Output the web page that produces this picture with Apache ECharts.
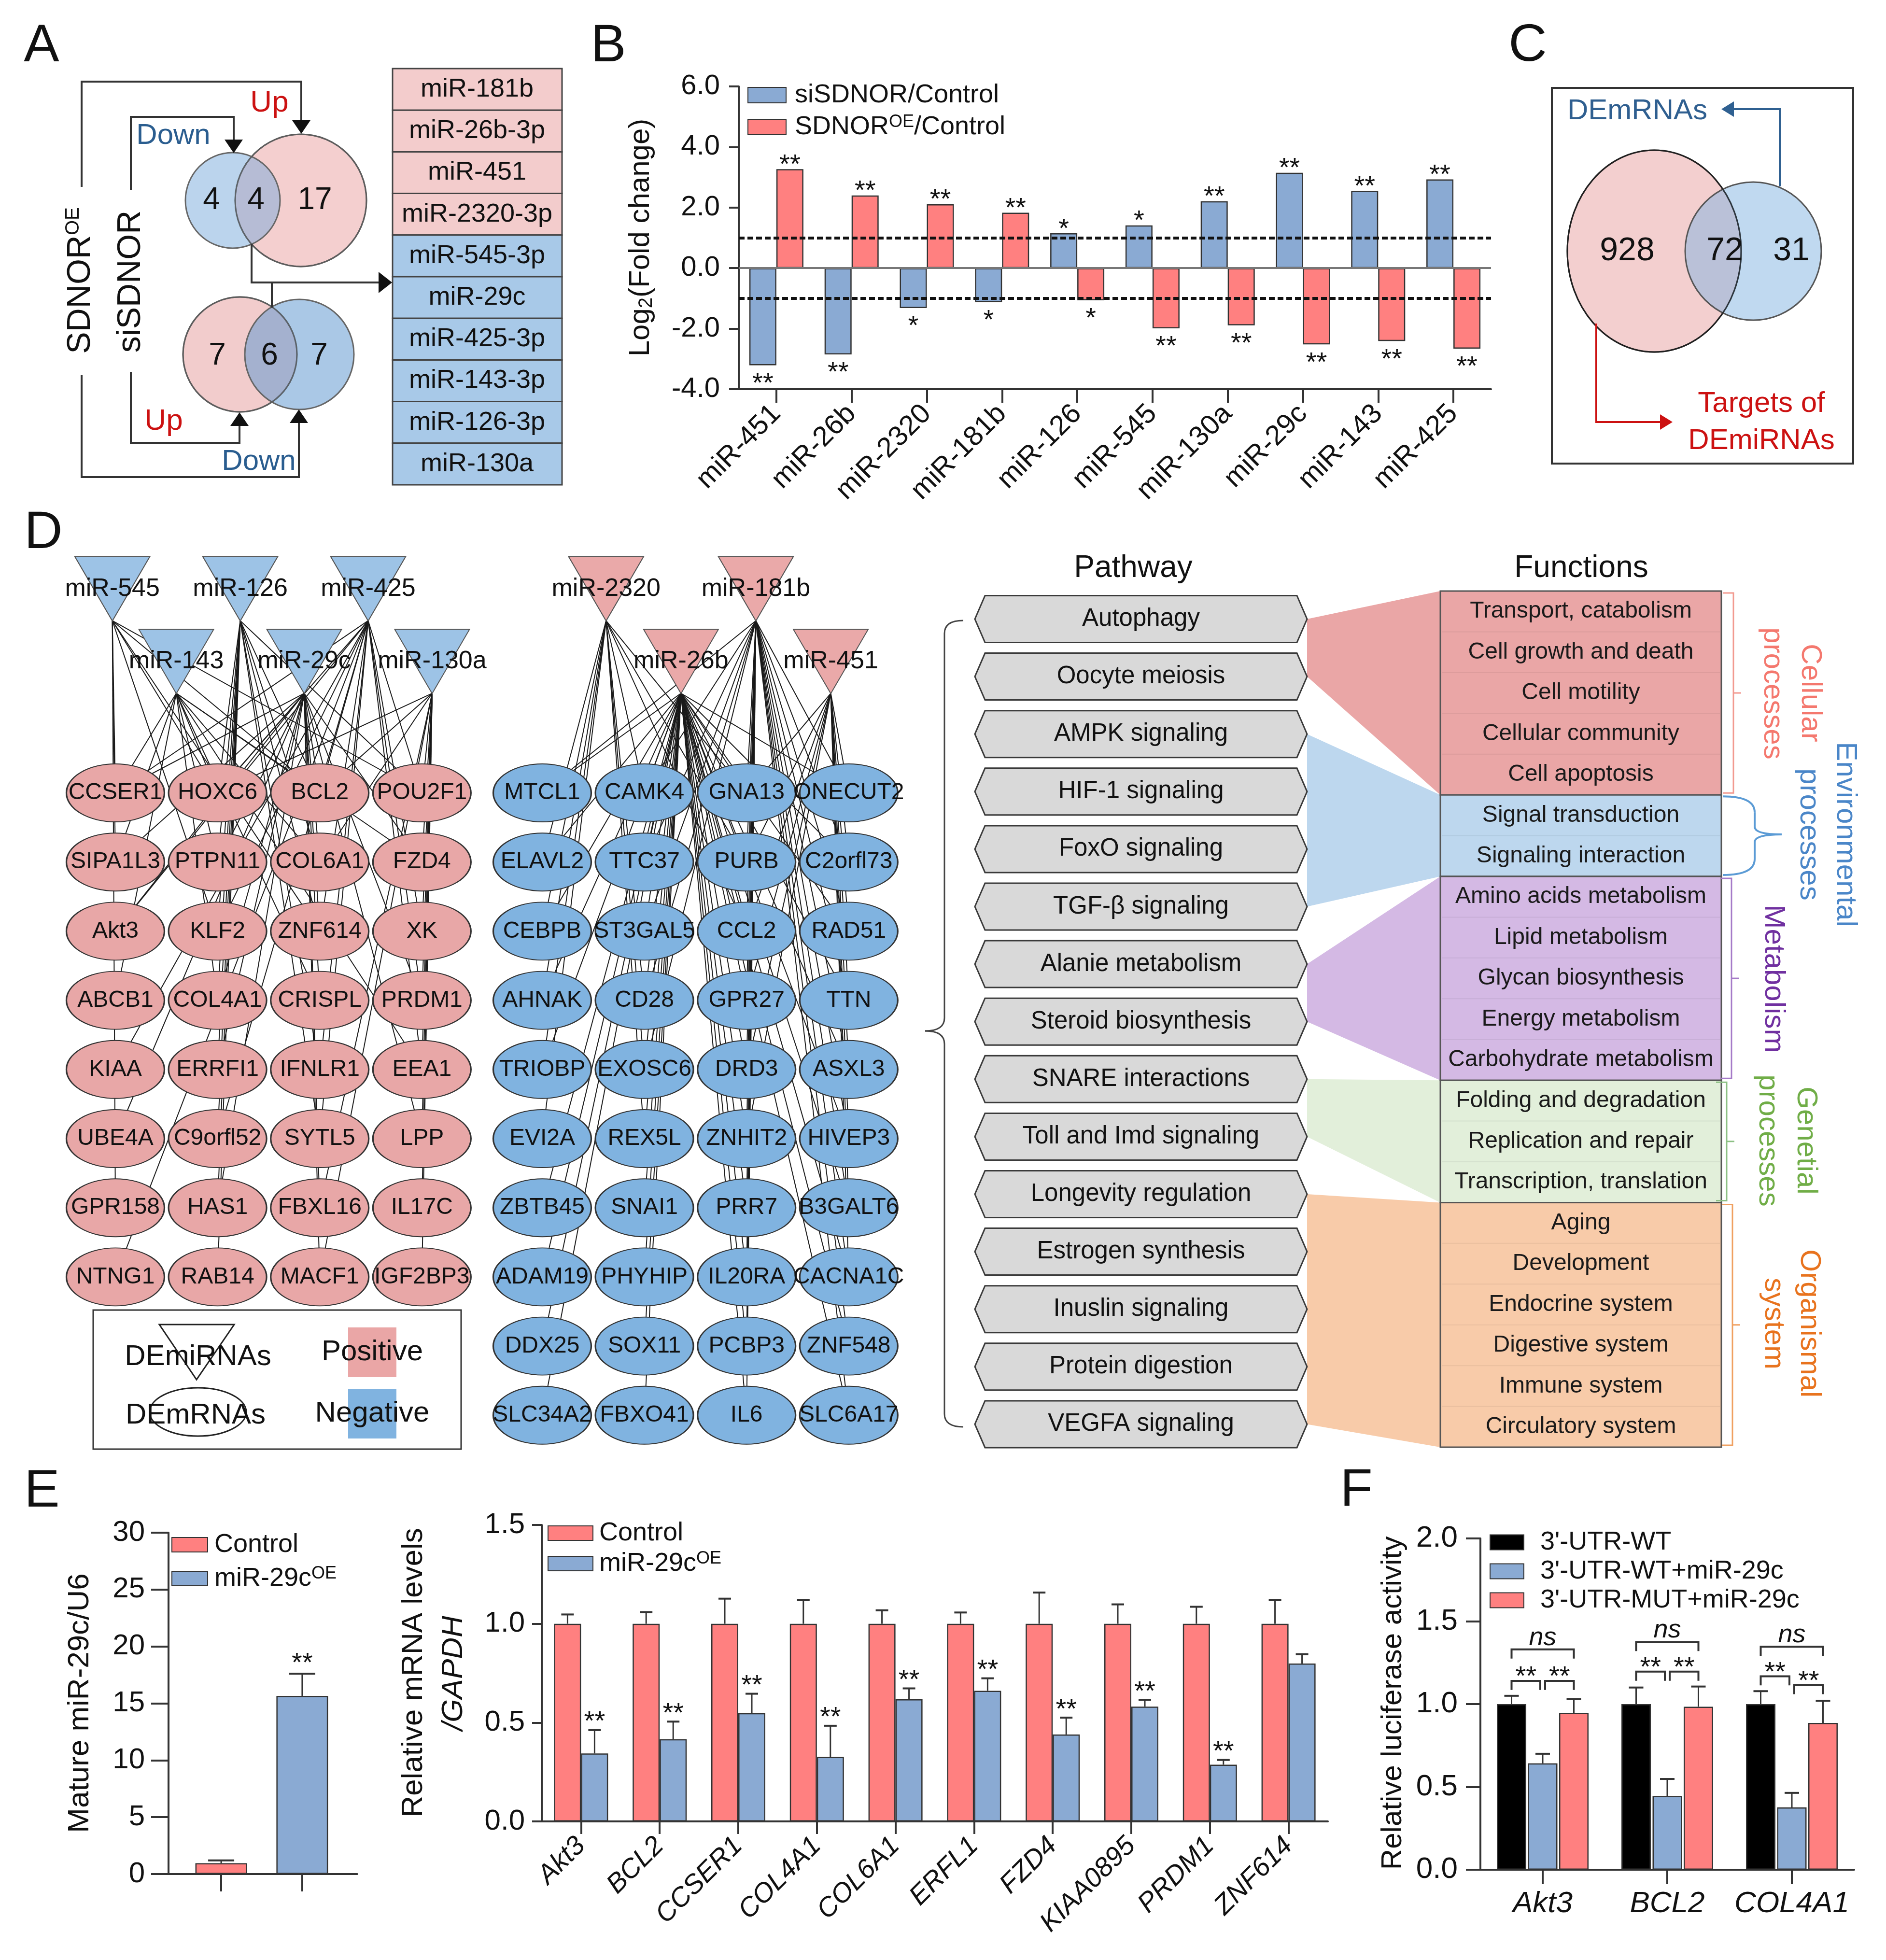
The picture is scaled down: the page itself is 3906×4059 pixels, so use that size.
<!DOCTYPE html>
<html><head><meta charset="utf-8">
<script src="https://cdn.jsdelivr.net/npm/echarts@6/dist/echarts.min.js"></script>
<style>html,body{margin:0;padding:0;background:#fff}#c{width:3906px;height:4059px}</style>
</head><body><div id="c"></div>
<script>
const FONT = '"Liberation Sans", Arial, Helvetica, sans-serif';

// ---------------- DATA ----------------
// Panel A
const aUpList = ['miR-181b', 'miR-26b-3p', 'miR-451', 'miR-2320-3p'];
const aDownList = ['miR-545-3p', 'miR-29c', 'miR-425-3p', 'miR-143-3p', 'miR-126-3p', 'miR-130a'];
const vennTop = [4, 4, 17];
const vennBottom = [7, 6, 7];
// Panel B
const bCats = ['miR-451', 'miR-26b', 'miR-2320', 'miR-181b', 'miR-126', 'miR-545', 'miR-130a', 'miR-29c', 'miR-143', 'miR-425'];
const bSi = [-3.21, -2.85, -1.32, -1.12, 1.15, 1.41, 2.21, 3.15, 2.55, 2.93];
const bOE = [3.27, 2.40, 2.11, 1.83, -1.06, -1.99, -1.89, -2.52, -2.41, -2.66];
const bSiStars = ['**', '**', '*', '*', '*', '*', '**', '**', '**', '**'];
const bOEStars = ['**', '**', '**', '**', '*', '**', '**', '**', '**', '**'];
const bThresholds = [1, -1];
// Panel C
const vennC = [928, 72, 31];
// Panel D network
const leftMiR = ['miR-545', 'miR-143', 'miR-126', 'miR-29c', 'miR-425', 'miR-130a'];
const rightMiR = ['miR-2320', 'miR-26b', 'miR-181b', 'miR-451'];
const leftGenes = ['CCSER1', 'HOXC6', 'BCL2', 'POU2F1', 'SIPA1L3', 'PTPN11', 'COL6A1', 'FZD4',
  'Akt3', 'KLF2', 'ZNF614', 'XK', 'ABCB1', 'COL4A1', 'CRISPL', 'PRDM1',
  'KIAA', 'ERRFI1', 'IFNLR1', 'EEA1', 'UBE4A', 'C9orfl52', 'SYTL5', 'LPP',
  'GPR158', 'HAS1', 'FBXL16', 'IL17C', 'NTNG1', 'RAB14', 'MACF1', 'IGF2BP3'];
const rightGenes = ['MTCL1', 'CAMK4', 'GNA13', 'ONECUT2', 'ELAVL2', 'TTC37', 'PURB', 'C2orfl73',
  'CEBPB', 'ST3GAL5', 'CCL2', 'RAD51', 'AHNAK', 'CD28', 'GPR27', 'TTN',
  'TRIOBP', 'EXOSC6', 'DRD3', 'ASXL3', 'EVI2A', 'REX5L', 'ZNHIT2', 'HIVEP3',
  'ZBTB45', 'SNAI1', 'PRR7', 'B3GALT6', 'ADAM19', 'PHYHIP', 'IL20RA', 'CACNA1C',
  'DDX25', 'SOX11', 'PCBP3', 'ZNF548', 'SLC34A2', 'FBXO41', 'IL6', 'SLC6A17'];
const t545 = ['CCSER1', 'SIPA1L3', 'HOXC6', 'KLF2', 'BCL2', 'ZNF614', 'POU2F1', 'GPR158'];
const t143 = ['CCSER1', 'SIPA1L3', 'ABCB1', 'HOXC6', 'PTPN11', 'COL4A1', 'BCL2', 'COL6A1', 'CRISPL', 'FZD4', 'EEA1'];
const t126 = ['HOXC6', 'PTPN11', 'KLF2', 'COL4A1', 'ERRFI1', 'C9orfl52', 'HAS1', 'RAB14', 'BCL2', 'COL6A1', 'ZNF614', 'IFNLR1', 'SYTL5', 'POU2F1'];
const t29c = ['CCSER1', 'SIPA1L3', 'Akt3', 'UBE4A', 'HOXC6', 'PTPN11', 'COL4A1', 'ERRFI1', 'HAS1', 'BCL2', 'COL6A1', 'ZNF614', 'CRISPL', 'FBXL16', 'MACF1', 'FZD4', 'PRDM1', 'LPP'];
const t425 = ['CCSER1', 'Akt3', 'KIAA', 'NTNG1', 'HOXC6', 'KLF2', 'C9orfl52', 'BCL2', 'ZNF614', 'IFNLR1', 'SYTL5', 'POU2F1', 'XK', 'PRDM1', 'EEA1'];
const t130a = ['HOXC6', 'BCL2', 'COL6A1', 'FBXL16', 'MACF1', 'POU2F1', 'FZD4', 'XK', 'PRDM1', 'EEA1', 'LPP', 'IL17C', 'IGF2BP3'];
const t2320 = ['CAMK4', 'ELAVL2', 'CEBPB', 'AHNAK', 'CD28', 'TRIOBP', 'EXOSC6', 'GNA13', 'PURB', 'CCL2', 'EVI2A', 'REX5L'];
const t26b = ['MTCL1', 'CAMK4', 'GNA13', 'ONECUT2', 'ELAVL2', 'TTC37', 'PURB', 'C2orfl73', 'CEBPB', 'ST3GAL5', 'CCL2', 'RAD51',
  'AHNAK', 'CD28', 'GPR27', 'TTN', 'TRIOBP', 'EXOSC6', 'DRD3', 'ASXL3', 'REX5L', 'ZNHIT2', 'HIVEP3', 'ZBTB45', 'SNAI1', 'PRR7',
  'B3GALT6', 'ADAM19', 'PHYHIP', 'IL20RA', 'CACNA1C', 'DDX25', 'SOX11', 'PCBP3', 'ZNF548', 'SLC34A2', 'FBXO41', 'IL6', 'SLC6A17'];
const t181b = ['MTCL1', 'CAMK4', 'GNA13', 'ONECUT2', 'TTC37', 'PURB', 'C2orfl73', 'ST3GAL5', 'CCL2', 'RAD51', 'CD28', 'GPR27', 'TTN',
  'EXOSC6', 'DRD3', 'ASXL3', 'ZNHIT2', 'HIVEP3', 'PRR7', 'B3GALT6', 'IL20RA', 'CACNA1C', 'PCBP3', 'ZNF548', 'IL6', 'SLC6A17'];
const t451 = ['ONECUT2', 'C2orfl73', 'RAD51', 'TTN', 'ASXL3', 'HIVEP3', 'B3GALT6', 'CACNA1C', 'GNA13', 'PURB', 'CCL2', 'GPR27', 'DRD3', 'ZNHIT2'];
// Panel D pathways / functions
const pathways = ['Autophagy', 'Oocyte meiosis', 'AMPK signaling', 'HIF-1 signaling', 'FoxO signaling', 'TGF-β signaling',
  'Alanie metabolism', 'Steroid biosynthesis', 'SNARE interactions', 'Toll and Imd signaling', 'Longevity regulation',
  'Estrogen synthesis', 'Inuslin signaling', 'Protein digestion', 'VEGFA signaling'];
const fnCellular = ['Transport, catabolism', 'Cell growth and death', 'Cell motility', 'Cellular community', 'Cell apoptosis'];
const fnEnv = ['Signal transduction', 'Signaling interaction'];
const fnMetab = ['Amino acids metabolism', 'Lipid metabolism', 'Glycan biosynthesis', 'Energy metabolism', 'Carbohydrate metabolism'];
const fnGenetic = ['Folding and degradation', 'Replication and repair', 'Transcription, translation'];
const fnOrgan = ['Aging', 'Development', 'Endocrine system', 'Digestive system', 'Immune system', 'Circulatory system'];
const pathRanges = [[0, 1], [2, 5], [6, 7], [8, 9], [10, 14]];
// Panel E
const e1Cats = ['Control', 'miR-29cOE'];
const e1Vals = [0.95, 15.66];
const e1Errs = [0.25, 1.95];
const e1Stars = ['', '**'];
const e2Cats = ['Akt3', 'BCL2', 'CCSER1', 'COL4A1', 'COL6A1', 'ERFL1', 'FZD4', 'KIAA0895', 'PRDM1', 'ZNF614'];
const e2Ctrl = [1, 1, 1, 1, 1, 1, 1, 1, 1, 1];
const e2CtrlErr = [0.047, 0.059, 0.127, 0.121, 0.068, 0.057, 0.158, 0.098, 0.086, 0.121];
const e2OE = [0.344, 0.416, 0.548, 0.326, 0.618, 0.661, 0.440, 0.581, 0.287, 0.799];
const e2OEErr = [0.118, 0.089, 0.098, 0.158, 0.055, 0.063, 0.085, 0.034, 0.024, 0.047];
const e2Stars = ['**', '**', '**', '**', '**', '**', '**', '**', '**', ''];
// Panel F
const fCats = ['Akt3', 'BCL2', 'COL4A1'];
const fWT = [1.0, 1.0, 1.0];
const fWTErr = [0.05, 0.10, 0.078];
const fWT29 = [0.642, 0.445, 0.376];
const fWT29Err = [0.058, 0.103, 0.088];
const fMUT = [0.946, 0.984, 0.886];
const fMUTErr = [0.084, 0.122, 0.134];
const fSigGroup = [0, 0, 0, 1, 1, 1, 2, 2, 2];
const fSigA = [0, 0, 1, 0, 0, 1, 0, 0, 1];
const fSigB = [2, 1, 2, 2, 1, 2, 2, 1, 2];
const fSigLevel = [1.33, 1.14, 1.14, 1.375, 1.196, 1.196, 1.346, 1.168, 1.115];
const fSigLabel = ['ns', '**', '**', 'ns', '**', '**', 'ns', '**', '**'];

// ---------------- GRAPHIC HELPERS ----------------
const G = [];
function txt(x, y, text, size, o = {}) {
  const al = o.align || 'center', va = o.va || 'middle';
  G.push({
    type: 'text', x: x, y: y, rotation: o.rot || 0, z: o.z || 60, silent: true,
    style: {
      text: text, x: 0, y: 0, fill: o.color || '#111', fontSize: size, fontFamily: FONT,
      fontStyle: o.italic ? 'italic' : 'normal', fontWeight: 'normal',
      textAlign: al, align: al, textVerticalAlign: va, verticalAlign: va, rich: o.rich
    }
  });
}
function poly(points, fill, stroke, lw, z) {
  G.push({ type: 'polygon', z: z || 10, silent: true, shape: { points: points }, style: { fill: fill, stroke: stroke || null, lineWidth: lw || 0 } });
}
function pline(points, stroke, lw, z) {
  G.push({ type: 'polyline', z: z || 20, silent: true, shape: { points: points }, style: { fill: null, stroke: stroke, lineWidth: lw } });
}
function rect(x, y, w, h, fill, stroke, lw, z) {
  G.push({ type: 'rect', z: z || 10, silent: true, shape: { x: x, y: y, width: w, height: h }, style: { fill: fill, stroke: stroke || null, lineWidth: lw || 0 } });
}
function ell(cx, cy, rx, ry, fill, stroke, lw, z) {
  G.push({ type: 'ellipse', z: z || 10, silent: true, shape: { cx: cx, cy: cy, rx: rx, ry: ry }, style: { fill: fill, stroke: stroke || null, lineWidth: lw || 0 } });
}
function segs(list, stroke, lw, z) {
  let cx = 0, cy = 0;
  list.forEach(s => {
    if (s[0] === 'M') { cx = s[1]; cy = s[2]; }
    else if (s[0] === 'L') { pline([[cx, cy], [s[1], s[2]]], stroke, lw, z); cx = s[1]; cy = s[2]; }
    else if (s[0] === 'Q') {
      G.push({ type: 'bezierCurve', z: z || 20, silent: true, shape: { x1: cx, y1: cy, cpx1: s[1], cpy1: s[2], x2: s[3], y2: s[4] }, style: { fill: null, stroke: stroke, lineWidth: lw } });
      cx = s[3]; cy = s[4];
    }
  });
}
function arrow(tx, ty, dir, len, half, color) {
  let pts;
  if (dir === 'down') pts = [[tx, ty], [tx - half, ty - len], [tx + half, ty - len]];
  if (dir === 'up') pts = [[tx, ty], [tx - half, ty + len], [tx + half, ty + len]];
  if (dir === 'right') pts = [[tx, ty], [tx - len, ty - half], [tx - len, ty + half]];
  if (dir === 'left') pts = [[tx, ty], [tx + len, ty - half], [tx + len, ty + half]];
  poly(pts, color, null, 0, 25);
}

// ---------------- PANEL LETTERS ----------------
txt(86, 97, 'A', 110); txt(1260, 97, 'B', 110); txt(3164, 96, 'C', 110);
txt(90, 1105, 'D', 110); txt(87, 3090, 'E', 110); txt(2809, 3089, 'F', 110);

// ---------------- PANEL A ----------------
const LN = '#333';
pline([[169, 387], [169, 169], [624, 169], [624, 252]], LN, 4);
arrow(624, 277, 'down', 28, 19, '#111');
pline([[169, 777], [169, 988], [619, 988], [619, 874]], LN, 4);
arrow(619, 848, 'up', 28, 19, '#111');
pline([[271, 394], [271, 242], [484, 242], [484, 292]], LN, 4);
arrow(484, 317, 'down', 28, 19, '#111');
pline([[271, 770], [271, 917], [496, 917], [496, 880]], LN, 4);
arrow(496, 854, 'up', 28, 19, '#111');
pline([[521, 505], [521, 585], [786, 585]], LN, 4);
pline([[563, 585], [563, 637]], LN, 4);
arrow(812, 585, 'right', 28, 22, '#111');
ell(623, 415, 136, 137, '#f4cfcf', '#666', 3, 10);
ell(482, 415, 98, 99, 'rgba(120,170,220,0.5)', '#666', 3, 11);
ell(623, 415, 136, 137, null, 'rgba(90,90,90,0.8)', 3, 12);
txt(438, 415, String(vennTop[0]), 64); txt(530, 415, String(vennTop[1]), 64); txt(652, 415, String(vennTop[2]), 64);
ell(497, 734, 118, 119, '#f2cccc', '#666', 3, 10);
ell(620, 734, 113, 114, 'rgba(100,155,210,0.55)', '#666', 3, 11);
ell(497, 734, 118, 119, null, 'rgba(90,90,90,0.8)', 3, 12);
txt(450, 737, String(vennBottom[0]), 64); txt(558, 737, String(vennBottom[1]), 64); txt(661, 737, String(vennBottom[2]), 64);
txt(558, 214, 'Up', 62, { color: '#cc1111' });
txt(359, 281, 'Down', 60, { color: '#2a5d8f' });
txt(339, 873, 'Up', 62, { color: '#cc1111' });
txt(536, 956, 'Down', 60, { color: '#2a5d8f' });
txt(167, 581, '{n|SDNOR}{s|OE}', 66, {
  rot: Math.PI / 2, rich: {
    n: { fontSize: 68, fontFamily: FONT, lineHeight: 70, fill: '#111', color: '#111' },
    s: { fontSize: 40, fontFamily: FONT, lineHeight: 30, verticalAlign: 'top', fill: '#111', color: '#111' }
  }
});
txt(271, 583, 'siSDNOR', 68, { rot: Math.PI / 2 });
const aAll = aUpList.concat(aDownList);
const rowH = 86.2;
aAll.forEach((m, i) => {
  rect(813, 142 + i * rowH, 351, rowH, i < aUpList.length ? '#f3cccc' : '#a8c9e8', '#444', 3, 10);
  txt(988, 142 + i * rowH + rowH / 2, m, 54);
});

// ---------------- PANEL C ----------------
rect(3214, 182, 624, 778, '#fff', '#333', 4, 5);
ell(3426, 520, 180, 209, '#f3cfcf', '#222', 3, 10);
ell(3631, 520, 141, 143, 'rgba(130,180,225,0.5)', '#555', 3, 11);
ell(3426, 520, 180, 209, null, 'rgba(30,30,30,0.7)', 3, 12);
txt(3370, 520, String(vennC[0]), 68); txt(3572, 520, String(vennC[1]), 68); txt(3710, 520, String(vennC[2]), 68);
txt(3246, 230, 'DEmRNAs', 60, { align: 'left', color: '#2f5f90' });
pline([[3686, 386], [3686, 226], [3590, 226]], '#2f6091', 4);
arrow(3565, 226, 'left', 26, 16, '#2f6091');
pline([[3306, 670], [3306, 874], [3440, 874]], '#cc1111', 4);
arrow(3464, 874, 'right', 26, 16, '#cc1111');
txt(3648, 836, 'Targets of', 60, { color: '#cc1111' });
txt(3648, 913, 'DEmiRNAs', 60, { color: '#cc1111' });

// ---------------- PANEL D: legend ----------------
rect(193, 2713, 762, 288, '#fff', '#333', 3, 5);
poly([[330, 2743], [485, 2743], [407, 2857]], '#fff', '#222', 3, 10);
txt(410, 2810, 'DEmiRNAs', 60, { z: 15 });
ell(410, 2924, 100, 50, '#fff', '#222', 3, 10);
txt(405, 2931, 'DEmRNAs', 60, { z: 15 });
rect(721, 2749, 100, 103, '#eaa6a6', null, 0, 10);
txt(771, 2800, 'Positive', 60, { z: 15 });
rect(721, 2877, 100, 102, '#80b3e0', null, 0, 10);
txt(771, 2927, 'Negative', 60, { z: 15 });

// ---------------- PANEL D: pathways ----------------
txt(2347, 1177, 'Pathway', 64);
txt(3275, 1177, 'Functions', 64);
const pTop = 1282, pStep = 119.1, hexL = 2019, hexR = 2707, hexH = 97, hexC = 21;
pathways.forEach((p, i) => {
  const cy = pTop + i * pStep;
  poly([[hexL, cy], [hexL + hexC, cy - hexH / 2], [hexR - hexC, cy - hexH / 2], [hexR, cy], [hexR - hexC, cy + hexH / 2], [hexL + hexC, cy + hexH / 2]], '#d9d9d9', '#3a3a3a', 3, 20);
  txt((hexL + hexR) / 2, cy, p, 51, { z: 30 });
});
segs([['M', 1995, 1285], ['Q', 1956, 1285, 1956, 1312], ['L', 1956, 2108], ['Q', 1956, 2135, 1916, 2135],
  ['Q', 1956, 2135, 1956, 2162], ['L', 1956, 2928], ['Q', 1956, 2955, 1995, 2955]], '#444', 3);
const fnGroups = [fnCellular, fnEnv, fnMetab, fnGenetic, fnOrgan];
const fnFill = ['#eaa6a6', '#bdd7ee', '#d4b9e4', '#e2efda', '#f8cba9'];
const fTop = 1224, fBot = 2997, fL = 2983, fR = 3565;
const nItems = fnGroups.reduce((s, g) => s + g.length, 0);
const fH = (fBot - fTop) / nItems;
let k = 0;
fnGroups.forEach((g, gi) => {
  const y0 = fTop + k * fH, y1 = y0 + g.length * fH;
  const pr = pathRanges[gi];
  poly([[hexR, pTop + pr[0] * pStep], [fL, y0], [fL, y1], [hexR, pTop + pr[1] * pStep]], fnFill[gi], null, 0, 8);
  rect(fL, y0, fR - fL, y1 - y0, fnFill[gi], '#555', 3, 12);
  g.forEach((f, j) => {
    if (j > 0) pline([[fL + 3, y0 + j * fH], [fR - 3, y0 + j * fH]], 'rgba(0,0,0,0.06)', 2, 13);
    txt((fL + fR) / 2, y0 + (j + 0.5) * fH, f, 48, { color: '#1a1a1a', z: 30 });
  });
  k += g.length;
});
const yS = [fTop, fTop + 5 * fH, fTop + 7 * fH, fTop + 12 * fH, fTop + 15 * fH, fBot];
function sqBracket(ya, yb, x, color) {
  const ym = (ya + yb) / 2;
  pline([[x - 22, ya + 4], [x, ya + 4], [x, yb - 4], [x - 22, yb - 4]], color, 3);
  pline([[x, ym], [x + 16, ym]], color, 3);
}
sqBracket(yS[0], yS[1], 3590, '#f29a90');
segs([['M', 3568, yS[1] + 3], ['Q', 3634, yS[1] + 3, 3634, yS[1] + 36], ['L', 3634, 1712], ['Q', 3634, 1728, 3690, 1728],
  ['Q', 3634, 1728, 3634, 1744], ['L', 3634, yS[2] - 36], ['Q', 3634, yS[2] - 3, 3568, yS[2] - 3]], '#5b9bd5', 4);
sqBracket(yS[2], yS[3], 3586, '#a57ac8');
sqBracket(yS[3], yS[4], 3576, '#8cc084');
sqBracket(yS[4], yS[5], 3588, '#f0a060');
const R = -Math.PI / 2;
txt(3749, 1435, 'Cellular', 60, { rot: R, color: '#f4786e' });
txt(3671, 1436, 'processes', 60, { rot: R, color: '#f4786e' });
txt(3822, 1728, 'Environmental', 60, { rot: R, color: '#4a86c8' });
txt(3746, 1728, 'processes', 60, { rot: R, color: '#4a86c8' });
txt(3673, 2027, 'Metabolism', 60, { rot: R, color: '#7030a0' });
txt(3740, 2362, 'Genetial', 60, { rot: R, color: '#70ad47' });
txt(3661, 2362, 'processes', 60, { rot: R, color: '#70ad47' });
txt(3747, 2741, 'Organismal', 60, { rot: R, color: '#e8731e' });
txt(3673, 2741, 'system', 60, { rot: R, color: '#e8731e' });

// ---------------- axis titles ----------------
txt(1327, 492, '{a|Log}{b|2}{a|(Fold change)}', 60, {
  rot: Math.PI / 2, rich: {
    a: { fontSize: 60, fontFamily: FONT, lineHeight: 64, color: '#111' },
    b: { fontSize: 40, fontFamily: FONT, lineHeight: 30, verticalAlign: 'bottom', color: '#111' }
  }
});
txt(166, 3527, 'Mature miR-29c/U6', 62, { rot: Math.PI / 2 });
txt(857, 3464, 'Relative mRNA levels', 62, { rot: Math.PI / 2 });
txt(940, 3465, '/GAPDH', 62, { rot: Math.PI / 2, italic: true });
txt(2885, 3527, 'Relative luciferase activity', 60, { rot: Math.PI / 2 });

// ---------------- NETWORK ----------------
const TRI = 'path://M0,0L2,0L1,1.72Z';
function netSeries(mirs, genes, lists, gridIdx, x0, step, triColor, geneColor) {
  const nodes = [];
  mirs.forEach((m, i) => nodes.push({
    name: m, value: [x0 + i * step, i % 2 === 0 ? -2.49 : -1.44],
    symbol: TRI, symbolSize: [155, 133], symbolOffset: [0, -66],
    itemStyle: { color: triColor, borderColor: '#555', borderWidth: 2 },
    label: { fontSize: 52 }
  }));
  genes.forEach((g, j) => nodes.push({
    name: g, value: [j % 4, Math.floor(j / 4)],
    symbol: 'circle', symbolSize: [203, 120],
    itemStyle: { color: geneColor, borderColor: '#333', borderWidth: 2.5 }
  }));
  const links = [];
  mirs.forEach((m, i) => lists[i].forEach(t => links.push({ source: m, target: t })));
  return {
    type: 'graph', layout: 'none', coordinateSystem: 'cartesian2d', xAxisIndex: gridIdx, yAxisIndex: gridIdx,
    silent: true, roam: false, z: 3, data: nodes, links: links,
    label: { show: true, position: 'inside', formatter: '{b}', fontSize: 48, color: '#111', fontFamily: FONT },
    lineStyle: { color: '#1a1a1a', width: 2, opacity: 1, curveness: 0 },
    emphasis: { disabled: true }
  };
}

// ---------------- CHART SERIES HELPERS ----------------
function errSeries(ax, vals, errs, offset, capW, stars, starGap) {
  return {
    type: 'custom', xAxisIndex: ax, yAxisIndex: ax, z: 6, silent: true,
    data: vals.map((v, i) => [i, v, errs[i]]),
    renderItem: (params, api) => {
      const i = api.value(0), v = api.value(1), e = api.value(2);
      const p0 = api.coord([i, v]), p1 = api.coord([i, v + e]);
      const x = p0[0] + offset;
      const ch = [
        { type: 'line', shape: { x1: x, y1: p0[1], x2: x, y2: p1[1] }, style: { stroke: '#333', lineWidth: 3 } },
        { type: 'line', shape: { x1: x - capW / 2, y1: p1[1], x2: x + capW / 2, y2: p1[1] }, style: { stroke: '#333', lineWidth: 4 } }
      ];
      const s = stars ? stars[params.dataIndex] : '';
      if (s) ch.push({ type: 'text', style: { text: s, x: x, y: p1[1] - starGap, textAlign: 'center', align: 'center', textVerticalAlign: 'middle', verticalAlign: 'middle', fontSize: 56, fontFamily: FONT, fill: '#111' } });
      return { type: 'group', children: ch };
    }
  };
}
const stXE1 = e1Vals.map((v, i) => [i, v]);

const axLine = { show: true, onZero: false, lineStyle: { color: '#333', width: 4 } };
const axTick = (len) => ({ show: true, length: len, lineStyle: { color: '#333', width: 4 } });
const richLegend = {
  n: { fontSize: 54, fontFamily: FONT, lineHeight: 56, color: '#111' },
  s: { fontSize: 36, fontFamily: FONT, lineHeight: 22, verticalAlign: 'top', color: '#111' }
};
function legendFmt(name) {
  if (name.endsWith('OE')) return '{n|' + name.slice(0, -2) + '}{s|OE}';
  if (name.indexOf('OE/') >= 0) { const p = name.split('OE/'); return '{n|' + p[0] + '}{s|OE}{n|/' + p[1] + '}'; }
  return '{n|' + name + '}';
}
function legend(names, left, top, iw, ih, gap, tpad) {
  return {
    data: names, left: left, top: top, orient: 'vertical', padding: 0, itemWidth: iw, itemHeight: ih, itemGap: gap,
    icon: 'rect', selectedMode: false, formatter: legendFmt,
    textStyle: { fontSize: 54, fontFamily: FONT, color: '#111', padding: [0, 0, 0, tpad], rich: richLegend }
  };
}

const PINK = '#ff8080', BLUE = '#8aaad3';
const barStyle = (c) => ({ color: c, borderColor: '#333', borderWidth: 2.5 });

const option = {
  animation: false,
  backgroundColor: '#fff',
  textStyle: { fontFamily: FONT },
  grid: [
    { left: 1530, top: 179, width: 1558, height: 627 },
    { left: 349, top: 3174, width: 391, height: 707 },
    { left: 1122, top: 3158, width: 1628, height: 614 },
    { left: 3066, top: 3186, width: 774, height: 686 },
    { left: 27.4, top: 1212.4, width: 1058, height: 1575.2 },
    { left: 911.4, top: 1212.4, width: 1058, height: 1861.6 }
  ],
  xAxis: [
    { gridIndex: 0, type: 'category', data: bCats, axisLine: axLine, axisTick: Object.assign(axTick(28), { alignWithLabel: true }),
      axisLabel: { rotate: 45, fontSize: 58, color: '#111', margin: 42, interval: 0 } },
    { gridIndex: 1, type: 'value', min: -0.65, max: 1.68, axisLine: axLine, splitLine: { show: false },
      axisTick: Object.assign(axTick(36), { customValues: [0, 1] }), axisLabel: { show: false } },
    { gridIndex: 2, type: 'category', data: e2Cats, axisLine: axLine, axisTick: Object.assign(axTick(26), { alignWithLabel: true }),
      axisLabel: { rotate: 45, fontSize: 56, fontStyle: 'italic', color: '#111', margin: 42, interval: 0 } },
    { gridIndex: 3, type: 'category', data: fCats, axisLine: axLine, axisTick: Object.assign(axTick(30), { alignWithLabel: true }),
      axisLabel: { fontSize: 62, fontStyle: 'italic', color: '#111', margin: 40, interval: 0 } },
    { gridIndex: 4, type: 'value', min: -1, max: 4, show: false },
    { gridIndex: 5, type: 'value', min: -1, max: 4, show: false }
  ],
  yAxis: [
    { gridIndex: 0, type: 'value', min: -4, max: 6, interval: 2, axisLine: axLine, axisTick: axTick(20), splitLine: { show: false },
      axisLabel: { fontSize: 58, color: '#111', margin: 39, formatter: v => v.toFixed(1) } },
    { gridIndex: 1, type: 'value', min: 0, max: 30, interval: 5, axisLine: axLine, axisTick: axTick(36), splitLine: { show: false },
      axisLabel: { fontSize: 60, color: '#111', margin: 49 } },
    { gridIndex: 2, type: 'value', min: 0, max: 1.5, interval: 0.5, axisLine: axLine, axisTick: axTick(20), splitLine: { show: false },
      axisLabel: { fontSize: 60, color: '#111', margin: 35, formatter: v => v.toFixed(1) } },
    { gridIndex: 3, type: 'value', min: 0, max: 2, interval: 0.5, axisLine: axLine, axisTick: axTick(30), splitLine: { show: false },
      axisLabel: { fontSize: 62, color: '#111', margin: 47, formatter: v => v.toFixed(1) } },
    { gridIndex: 4, type: 'value', min: -3, max: 8, inverse: true, show: false },
    { gridIndex: 5, type: 'value', min: -3, max: 10, inverse: true, show: false }
  ],
  legend: [
    legend(['siSDNOR/Control', 'SDNOROE/Control'], 1548, 170, 79, 32, 11, 13),
    legend(['Control', 'miR-29cOE'], 355, 3172, 74, 30, 15, 9),
    legend(['Control', 'miR-29cOE'], 1134, 3148, 93, 30, 8, 8),
    legend(["3'-UTR-WT", "3'-UTR-WT+miR-29c", "3'-UTR-MUT+miR-29c"], 3085, 3167, 70, 31, 6, 29)
  ],
  graphic: { elements: G },
  series: [
    { type: 'line', xAxisIndex: 0, yAxisIndex: 0, data: [], z: 1, silent: true,
      markLine: { silent: true, symbol: ['none', 'none'], label: { show: false },
        data: [{ yAxis: 0, lineStyle: { color: '#777', width: 4, type: 'solid' } }]
          .concat(bThresholds.map(t => ({ yAxis: t, lineStyle: { color: '#111', width: 6, type: [12, 6] } }))) } },
    { type: 'bar', name: 'siSDNOR/Control', xAxisIndex: 0, yAxisIndex: 0, data: bSi, barWidth: 56, barGap: '0%', z: 3, itemStyle: barStyle(BLUE) },
    { type: 'bar', name: 'SDNOROE/Control', xAxisIndex: 0, yAxisIndex: 0, data: bOE, barWidth: 56, barGap: '0%', z: 3, itemStyle: barStyle(PINK) },
    { type: 'custom', xAxisIndex: 0, yAxisIndex: 0, z: 6, silent: true,
      data: bSi.map((v, i) => [i, v, 0]).concat(bOE.map((v, i) => [i, v, 1])),
      renderItem: (params, api) => {
        const i = api.value(0), v = api.value(1), s = api.value(2);
        const p = api.coord([i, v]);
        const di = params.dataIndex;
        const star = di < bSi.length ? bSiStars[di] : bOEStars[di - bSi.length];
        const x = p[0] + (s === 0 ? -28 : 28);
        const y = v >= 0 ? p[1] - 8 : p[1] + 39;
        return { type: 'text', style: { text: star, x: x, y: y, textAlign: 'center', align: 'center', textVerticalAlign: 'middle', verticalAlign: 'middle', fontSize: 56, fontFamily: FONT, fill: '#111' } };
      } },
    { type: 'bar', name: 'Control', xAxisIndex: 1, yAxisIndex: 1, data: [stXE1[0]], barWidth: 107, barGap: '-100%', z: 3, itemStyle: barStyle(PINK) },
    { type: 'bar', name: 'miR-29cOE', xAxisIndex: 1, yAxisIndex: 1, data: [stXE1[1]], barWidth: 107, barGap: '-100%', z: 3, itemStyle: barStyle(BLUE) },
    errSeries(1, e1Vals, e1Errs, 0, 54, e1Stars, 20),
    { type: 'bar', name: 'Control', xAxisIndex: 2, yAxisIndex: 2, data: e2Ctrl, barWidth: 56, barGap: '0%', z: 3, itemStyle: barStyle(PINK) },
    { type: 'bar', name: 'miR-29cOE', xAxisIndex: 2, yAxisIndex: 2, data: e2OE, barWidth: 56, barGap: '0%', z: 3, itemStyle: barStyle(BLUE) },
    errSeries(2, e2Ctrl, e2CtrlErr, -28, 26, null, 0),
    errSeries(2, e2OE, e2OEErr, 28, 26, e2Stars, 16),
    { type: 'bar', name: "3'-UTR-WT", xAxisIndex: 3, yAxisIndex: 3, data: fWT, barWidth: 61, barGap: '5.7%', z: 3, itemStyle: barStyle('#000') },
    { type: 'bar', name: "3'-UTR-WT+miR-29c", xAxisIndex: 3, yAxisIndex: 3, data: fWT29, barWidth: 61, barGap: '5.7%', z: 3, itemStyle: barStyle(BLUE) },
    { type: 'bar', name: "3'-UTR-MUT+miR-29c", xAxisIndex: 3, yAxisIndex: 3, data: fMUT, barWidth: 61, barGap: '5.7%', z: 3, itemStyle: barStyle(PINK) },
    errSeries(3, fWT, fWTErr, -64.5, 30, null, 0),
    errSeries(3, fWT29, fWT29Err, 0, 30, null, 0),
    errSeries(3, fMUT, fMUTErr, 64.5, 30, null, 0),
    { type: 'custom', xAxisIndex: 3, yAxisIndex: 3, z: 6, silent: true,
      data: fSigGroup.map((g, i) => [g, fSigLevel[i], fSigA[i], fSigB[i]]),
      renderItem: (params, api) => {
        const g = api.value(0), lv = api.value(1), a = api.value(2), b = api.value(3);
        const p = api.coord([g, lv]);
        const drop = api.coord([g, lv - 0.055])[1] - p[1];
        const off = [-64.5, 0, 64.5];
        let x1 = p[0] + off[a], x2 = p[0] + off[b];
        if (b - a === 1) { if (a === 0) x2 -= 5; else x1 += 5; }
        const lab = fSigLabel[params.dataIndex];
        const isNs = lab === 'ns';
        return { type: 'group', children: [
          { type: 'polyline', shape: { points: [[x1, p[1] + drop], [x1, p[1]], [x2, p[1]], [x2, p[1] + drop]] }, style: { fill: null, stroke: '#333', lineWidth: 4 } },
          { type: 'text', style: { text: lab, x: (x1 + x2) / 2, y: p[1] - (isNs ? 24 : 7), textAlign: 'center', align: 'center', textVerticalAlign: 'middle', verticalAlign: 'middle', fontSize: isNs ? 54 : 56, fontStyle: isNs ? 'italic' : 'normal', fontFamily: FONT, fill: '#111' } }
        ] };
      } },
    netSeries(leftMiR, leftGenes, [t545, t143, t126, t29c, t425, t130a], 4, -0.03, 0.626, '#9dc3e6', '#e8a7a7'),
    netSeries(rightMiR, rightGenes, [t2320, t26b, t181b, t451], 5, 0.625, 0.733, '#eaa9a9', '#80b3e0')
  ]
};

const chart = echarts.init(document.getElementById('c'), null, { renderer: 'canvas', width: 3906, height: 4059 });
chart.setOption(option);
</script></body></html>
